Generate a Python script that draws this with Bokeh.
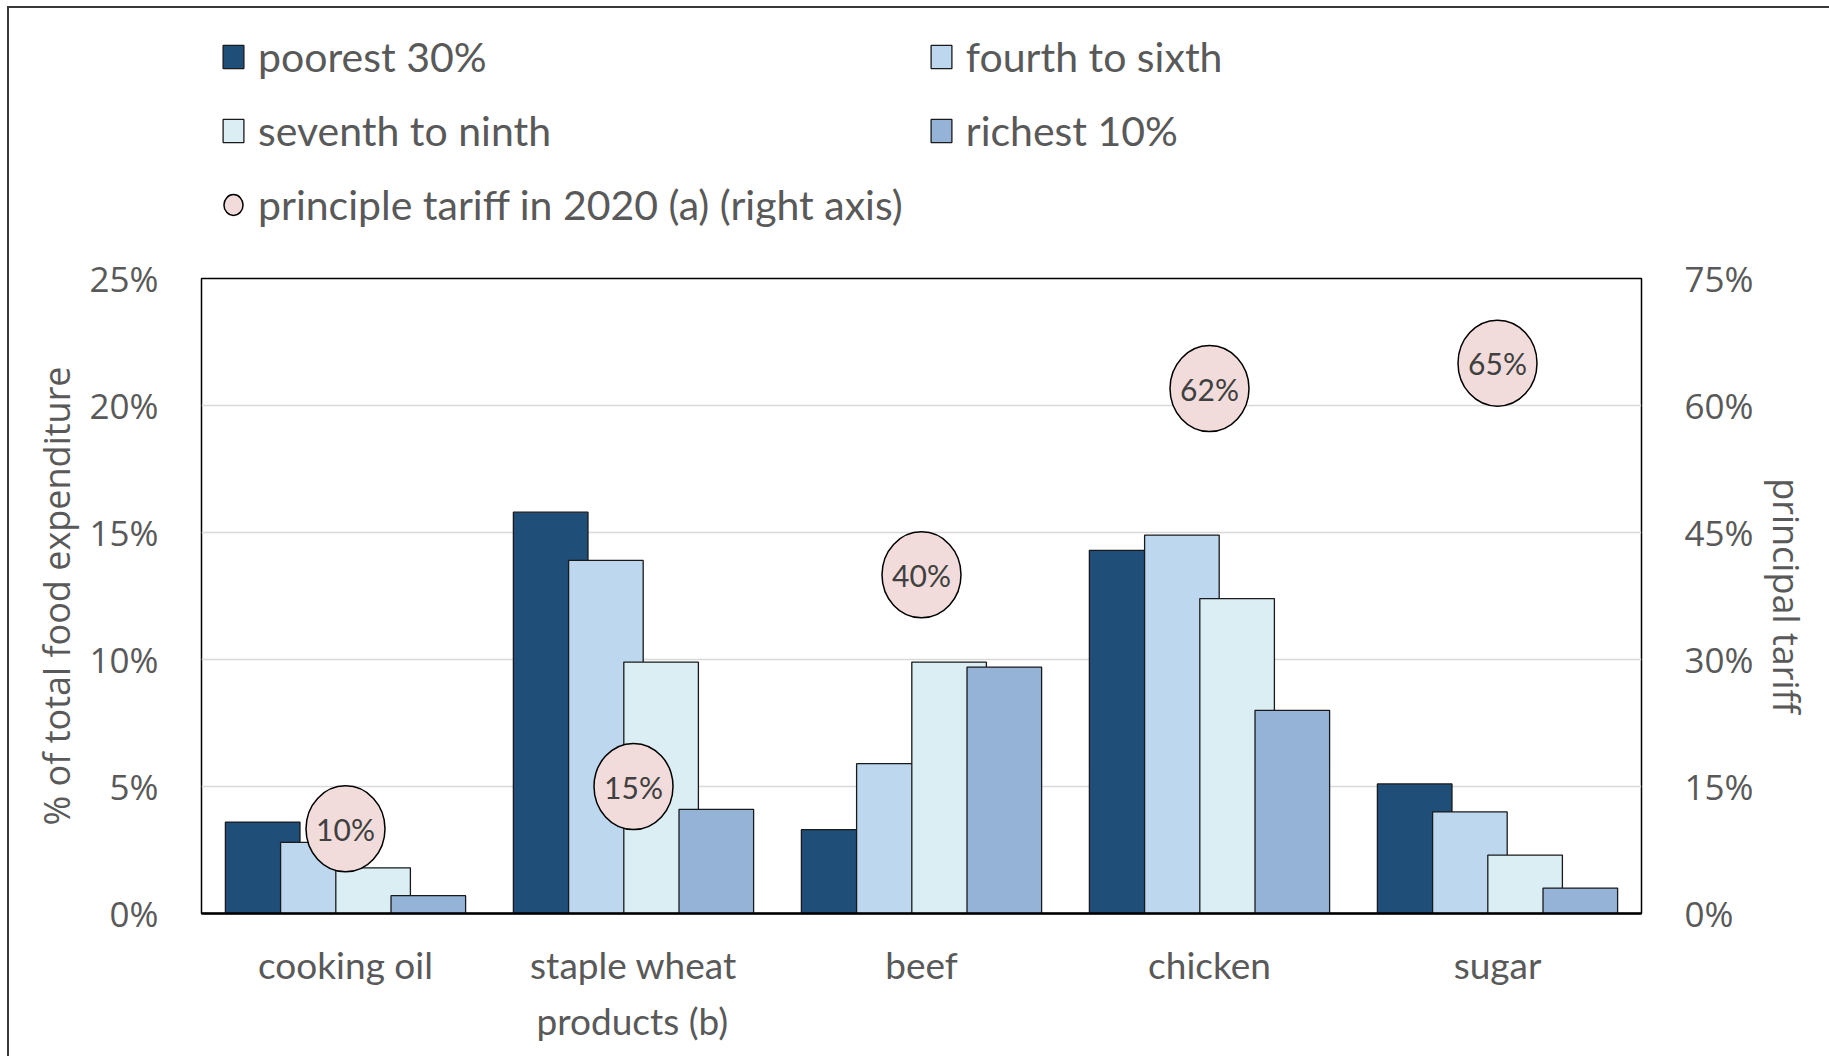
from bokeh.plotting import figure
from bokeh.layouts import column
from bokeh.models import (FactorRange, Range1d, LinearAxis, FixedTicker, Title,
                          PrintfTickFormatter, Legend, LegendItem, ColumnDataSource)
from bokeh.transform import dodge
from bokeh.embed import file_html
from bokeh.resources import INLINE
from bokeh.core.properties import value

# Share of total food expenditure (%) by household income group
categories = ["cooking oil", "staple wheat", "beef", "chicken", "sugar"]
category_second_row = "products (b)"   # continuation of "staple wheat"
poorest_30 = [3.6, 15.8, 3.3, 14.3, 5.1]
fourth_to_sixth = [2.8, 13.9, 5.9, 14.9, 4.0]
seventh_to_ninth = [1.8, 9.9, 9.9, 12.4, 2.3]
richest_10 = [0.7, 4.1, 9.7, 8.0, 1.0]

# Principal tariff in 2020 (%), right axis
tariff_2020 = [10, 15, 40, 62, 65]

share_ticks = [0, 5, 10, 15, 20, 25]
tariff_ticks = [0, 15, 30, 45, 60, 75]

series_names = ["poorest 30%", "fourth to sixth", "seventh to ninth", "richest 10%"]
series_colors = ["#1F4E79", "#BDD7EE", "#DAEEF3", "#95B3D7"]
tariff_name = "principle tariff in 2020 (a) (right axis)"

TEXT = "#595959"
BAR_LINE = "#1a1a1a"
ELL_FILL = "#F2DCDB"
W = 1820
LEG_H = 230
MAIN_H = 818

src = ColumnDataSource(dict(cat=categories, s0=poorest_30, s1=fourth_to_sixth,
                            s2=seventh_to_ninth, s3=richest_10))
tsrc = ColumnDataSource(dict(cat=categories, tariff=tariff_2020,
                             label=[f"{t}%" for t in tariff_2020]))
cols = ["s0", "s1", "s2", "s3"]

# ---------------- main chart ----------------
p = figure(x_range=FactorRange(*categories), y_range=Range1d(0, 25),
           width=W, height=MAIN_H, output_backend="svg", toolbar_location=None,
           min_border_left=192, min_border_right=188, min_border_top=40, min_border_bottom=143)
p.extra_y_ranges = {"tariff": Range1d(0, 75)}

# overlapping grouped bars: each bar wider than the step between them
step = 0.1917
bar_w = 0.259
for i, (col, color) in enumerate(zip(cols, series_colors)):
    p.vbar(x=dodge("cat", (i - 1.5) * step, range=p.x_range), top=col, width=bar_w,
           source=src, fill_color=color, line_color=BAR_LINE, line_width=1.3)

p.ellipse(x="cat", y="tariff", width=79, height=86, width_units="screen",
          height_units="screen", y_range_name="tariff", source=tsrc,
          fill_color=ELL_FILL, line_color="black", line_width=1.5)
p.text(x="cat", y="tariff", text="label", y_range_name="tariff", source=tsrc,
       text_align="center", text_baseline="middle", text_font=value("Lato"),
       text_font_size="30px", text_color="#404040")

# frame and grid
p.outline_line_color = "black"
p.outline_line_width = 1.5
p.xgrid.grid_line_color = None
p.ygrid.ticker = FixedTicker(ticks=[5, 10, 15, 20])
p.ygrid.grid_line_color = "#D9D9D9"
p.ygrid.grid_line_width = 1.5

# left axis
ya = p.yaxis[0]
ya.ticker = FixedTicker(ticks=share_ticks)
ya.formatter = PrintfTickFormatter(format="%d%%")
ya.axis_label = "% of total food expenditure"

# right axis
ra = LinearAxis(y_range_name="tariff", ticker=FixedTicker(ticks=tariff_ticks),
                formatter=PrintfTickFormatter(format="%d%%"), axis_label="principal tariff")
p.add_layout(ra, "right")

for ax in (ya, ra):
    ax.axis_line_color = None
    ax.major_tick_line_color = None
    ax.minor_tick_line_color = None
    ax.major_label_text_font = "Open Sans"
    ax.major_label_text_font_size = "35px"
    ax.major_label_text_color = TEXT
    ax.major_label_standoff = 37
    ax.axis_label_text_font = "Open Sans"
    ax.axis_label_text_font_size = "36px"
    ax.axis_label_text_font_style = "normal"
    ax.axis_label_text_color = TEXT
    ax.axis_label_standoff = 6

# category axis
xa = p.xaxis[0]
xa.axis_line_color = "black"
xa.axis_line_width = 2.5
xa.major_tick_line_color = None
xa.minor_tick_line_color = None
xa.major_label_text_font = "Lato"
xa.major_label_text_font_size = "37px"
xa.major_label_text_color = TEXT
xa.major_label_standoff = 22

# second row under "staple wheat"
p.add_layout(Title(text=category_second_row, align="left", offset=335, standoff=12,
                   text_font="Lato", text_font_size="37px", text_font_style="normal",
                   text_color=TEXT), "below")

# ---------------- legend strip ----------------
# proxy renderers carry the series styles for the legend swatches
lf = figure(x_range=p.x_range, y_range=Range1d(-2, -1), width=W, height=LEG_H,
            output_backend="svg", toolbar_location=None,
            x_axis_location=None, y_axis_location=None,
            min_border_left=0, min_border_right=0, min_border_top=0, min_border_bottom=0)
lf.grid.visible = False
lf.outline_line_color = None

legend_renderers = []
for col, color in zip(cols, series_colors):
    r = lf.vbar(x="cat", top=col, width=bar_w, source=src, visible=False,
                fill_color=color, line_color=BAR_LINE, line_width=1.3)
    legend_renderers.append(r)
e = lf.ellipse(x="cat", y="tariff", width=79, height=86, width_units="screen",
               height_units="screen", source=tsrc,
               fill_color=ELL_FILL, line_color="black", line_width=1.5)
legend_renderers.append(e)

items = [LegendItem(label=n, renderers=[r])
         for n, r in zip(series_names + [tariff_name], legend_renderers)]
legend = Legend(items=items, location=(19, 9), orientation="horizontal", ncols=2,
                padding=0, margin=0, spacing=25, label_standoff=12,
                glyph_width=26, glyph_height=29, inactive_fill_alpha=0,
                label_text_font="Lato", label_text_font_size="41px", label_text_color=TEXT,
                border_line_color=None, background_fill_alpha=0)
lf.add_layout(legend, "center")

page = column(lf, p, spacing=0,
              styles={"border-left": "2px solid #3a3a3a", "border-top": "2px solid #3a3a3a",
                      "margin-left": "7px", "margin-top": "6px"})

open("out.html", "w").write(file_html(page, INLINE))
